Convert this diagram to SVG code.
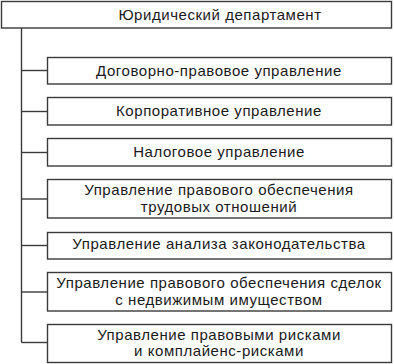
<svg xmlns="http://www.w3.org/2000/svg" width="394" height="364" viewBox="0 0 394 364">
  <style>
    .box { fill: #ffffff; stroke: #3a3a3a; stroke-width: 1.4; }
    .link { fill: none; stroke: #3a3a3a; stroke-width: 1.4; }
    text { font-family: "Liberation Sans", Arial, sans-serif; font-size: 15px; letter-spacing: 0.55px; fill: #1a1a1a; text-anchor: middle; }
  </style>
  <rect width="394" height="364" fill="#ffffff"/>

  <g id="connectors">
    <path class="link" d="M21.5 28 V342.5"/>
    <path class="link" d="M21.5 70.5 H47"/>
    <path class="link" d="M21.5 111.5 H47"/>
    <path class="link" d="M21.5 152.5 H47"/>
    <path class="link" d="M21.5 199 H47"/>
    <path class="link" d="M21.5 245.5 H47"/>
    <path class="link" d="M21.5 292 H47"/>
    <path class="link" d="M21.5 342.5 H47"/>
  </g>

  <g id="dept">
    <rect class="box" x="1.5" y="1.5" width="390" height="26.5"/>
    <text x="220" y="19.5">Юридический департамент</text>
  </g>

  <g id="contracts">
    <rect class="box" x="47.5" y="57.5" width="344" height="26.5"/>
    <text x="219" y="75.5">Договорно-правовое управление</text>
  </g>

  <g id="corporate">
    <rect class="box" x="47.5" y="97.5" width="344" height="27.5"/>
    <text x="219" y="116">Корпоративное управление</text>
  </g>

  <g id="tax">
    <rect class="box" x="47.5" y="138.5" width="344" height="27.5"/>
    <text x="219" y="157">Налоговое управление</text>
  </g>

  <g id="labor">
    <rect class="box" x="47.5" y="179.5" width="344" height="38.5"/>
    <text x="219" y="195">Управление правового обеспечения</text>
    <text x="219" y="211.5">трудовых отношений</text>
  </g>

  <g id="legislation">
    <rect class="box" x="47.5" y="232.5" width="344" height="26.5"/>
    <text x="219" y="249">Управление анализа законодательства</text>
  </g>

  <g id="realty">
    <rect class="box" x="47.5" y="272.5" width="344" height="38.5"/>
    <text x="219" y="288">Управление правового обеспечения сделок</text>
    <text x="219" y="304.5">с недвижимым имуществом</text>
  </g>

  <g id="risks">
    <rect class="box" x="47.5" y="324.5" width="344" height="38"/>
    <text x="219" y="339.5">Управление правовыми рисками</text>
    <text x="219" y="356">и комплайенс-рисками</text>
  </g>
</svg>
